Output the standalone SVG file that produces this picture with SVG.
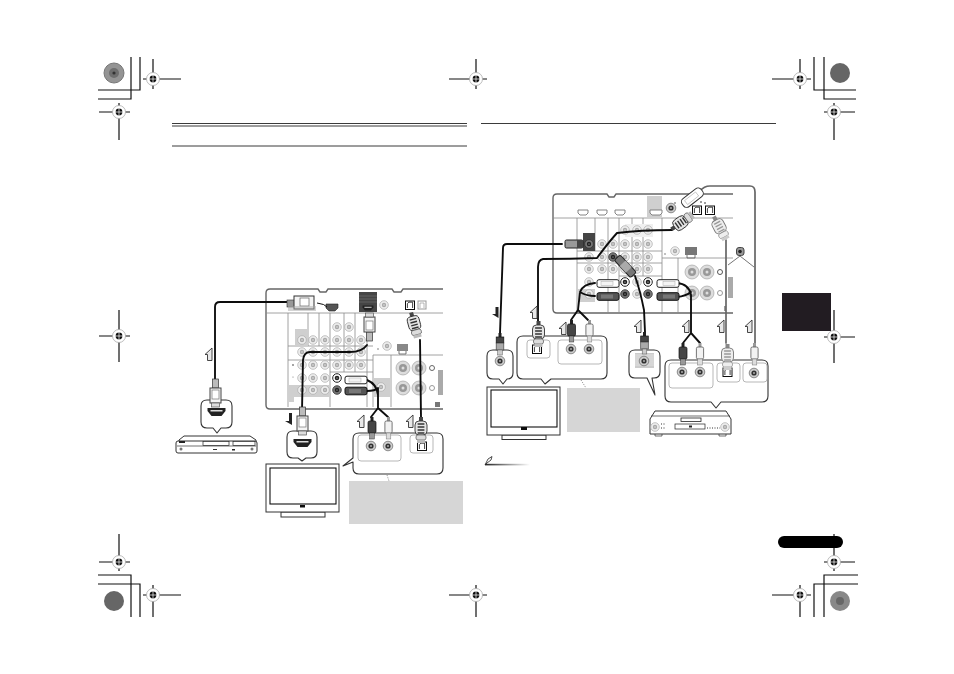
<svg xmlns="http://www.w3.org/2000/svg" width="954" height="674" viewBox="0 0 954 674">
<style>
.k{fill:none;stroke:#111;stroke-width:1.2}
.hl{stroke:#3a3a3a;stroke-width:1;fill:none}
.pan{fill:#fff;stroke:#666;stroke-width:1.4}
.div{stroke:#8a8a8a;stroke-width:.8;fill:none}
.cab{fill:none;stroke:#111;stroke-width:1.9;stroke-linecap:round;stroke-linejoin:round}
.cabg{fill:none;stroke:#666;stroke-width:1.7;stroke-linecap:round;stroke-linejoin:round}
.bub{fill:#fff;stroke:#333;stroke-width:1.1;stroke-linejoin:round}
.in{fill:none;stroke:#999;stroke-width:.7}
.gb{fill:#d6d6d6}
.bl{fill:#cfcfcf}
.dev{fill:#fff;stroke:#333;stroke-width:1;stroke-linejoin:round}
.dot{fill:none;stroke:#555;stroke-width:.6;stroke-dasharray:1.2 1.2}
.tv{fill:#fff;stroke:#333;stroke-width:1}
.scr{fill:#fff;stroke:#111;stroke-width:1.1}
.w{fill:#f2f2f2;stroke:#555;stroke-width:.8}
</style>
<defs>
<filter id="soft" x="0" y="0" width="1" height="1"><feGaussianBlur stdDeviation=".3"/></filter>
<linearGradient id="fade"><stop offset="0" stop-color="#222"/><stop offset="1" stop-color="#fff"/></linearGradient>
<g id="reg"><circle r="6.500" fill="#fff" stroke="#aaa" stroke-width=".8"/><circle r="3.400" fill="#111"/><path d="M-4,0H4M0,-4V4" stroke="#fff" stroke-width=".7"/></g>
<g id="j"><circle r="4.300" fill="#eee" stroke="#aaa" stroke-width=".7"/><circle r="2.200" fill="#aaa"/><circle r=".7" fill="#eee"/></g>
<g id="jb"><circle r="4.300" fill="#fff" stroke="#222" stroke-width="1"/><circle r="2.300" fill="#222"/><circle r=".6" fill="#fff"/></g>
<g id="jd"><circle r="4.300" fill="#777" stroke="#333" stroke-width=".8"/><circle r="2.200" fill="#222"/><circle r=".6" fill="#ccc"/></g>
<g id="jl"><circle r="7" fill="#ddd" stroke="#999" stroke-width=".6"/><circle r="4" fill="#999"/><circle r="1.500" fill="#ddd"/></g>
<g id="js"><circle r="4.800" fill="#ccc" stroke="#666" stroke-width=".7"/><circle r="2.600" fill="#333"/><circle r=".8" fill="#fff"/></g>
<path id="up" d="M7,0L0,6.500H2.500V12.500H7Z" fill="#e8e8e8" stroke="#333" stroke-width=".9" stroke-linejoin="round"/>
<g id="hp"><path d="M-9,-4H9V-1L5,4H-5L-9,-1Z" fill="#222"/><rect x="-6" y="-2" width="12" height="1.500" fill="#ddd"/></g>
<g id="rw"><rect x="-1.500" y="0" width="3" height="4" fill="#999"/><rect x="-3.600" y="4" width="7.200" height="12" rx="1.500" class="w"/><rect x="-2.300" y="16" width="4.600" height="6" fill="#ddd" stroke="#777" stroke-width=".5"/></g>
<g id="rd"><rect x="-1.500" y="0" width="3" height="4" fill="#222"/><rect x="-4" y="4" width="8" height="12" rx="1.500" fill="#444" stroke="#111" stroke-width=".7"/><rect x="-2.300" y="16" width="4.600" height="6" fill="#999" stroke="#333" stroke-width=".5"/></g>
<g id="rg"><rect x="-1.500" y="0" width="3" height="4" fill="#222"/><rect x="-3.800" y="4" width="7.600" height="6" fill="#444" stroke="#111" stroke-width=".7"/><rect x="-3.800" y="10" width="7.600" height="7" fill="#aaa" stroke="#444" stroke-width=".7"/><rect x="-2.300" y="17" width="4.600" height="5" fill="#ccc" stroke="#555" stroke-width=".5"/></g>
<g id="rwh"><rect x="0" y="-3.800" width="22" height="7.600" rx="2" fill="#fff" stroke="#222" stroke-width="1"/><rect x="4" y="-2" width="12" height="4" fill="#f4f4f4" stroke="#aaa" stroke-width=".5"/></g>
<g id="rdh"><rect x="0" y="-3.800" width="22" height="7.600" rx="2" fill="#555" stroke="#111" stroke-width="1"/><rect x="4" y="-2" width="12" height="4" fill="#777"/></g>
<g id="hv"><rect x="-3" y="-9" width="6" height="9" fill="#bbb" stroke="#333" stroke-width=".7"/><rect x="-5.500" y="0" width="11" height="15" fill="#f4f4f4" stroke="#444" stroke-width="1"/><rect x="-3.500" y="2" width="7" height="9" fill="#fff" stroke="#777" stroke-width=".7"/><rect x="-4" y="15" width="8" height="4" fill="#ddd" stroke="#555" stroke-width=".7"/></g>
<g id="opt"><rect x="-2" y="-13" width="4" height="5" fill="#444"/><rect x="-6" y="-9" width="12" height="14" rx="4" fill="#e4e4e4" stroke="#333" stroke-width=".9"/><path d="M-3.400,-6H3.400M-3.400,-3H3.400M-3.400,0H3.400M-3.400,3H3.400" stroke="#333" stroke-width="1.400"/><rect x="-5" y="5" width="10" height="5" rx="2" fill="#ddd" stroke="#555" stroke-width=".7"/><rect x="-4" y="10" width="8" height="3" fill="#bbb"/></g>
<g id="optg"><rect x="-2" y="-13" width="4" height="5" fill="#888"/><rect x="-6" y="-9" width="12" height="14" rx="4" fill="#eee" stroke="#777" stroke-width=".9"/><path d="M-3.400,-6H3.400M-3.400,-3H3.400M-3.400,0H3.400M-3.400,3H3.400" stroke="#999" stroke-width="1.400"/><rect x="-5" y="5" width="10" height="5" rx="2" fill="#eee" stroke="#888" stroke-width=".7"/><rect x="-4" y="10" width="8" height="3" fill="#ccc"/></g>
<g id="port"><rect x="-4.500" y="-4" width="9" height="8.500" fill="#fff" stroke="#111" stroke-width="1"/><path d="M-2.600,3V-1.500L-1,-2.800H2.600V3" fill="none" stroke="#111" stroke-width=".8"/></g>
</defs>

<g filter="url(#soft)">
<rect width="954" height="674" fill="#fff"/>
<g id="marks">
<circle cx="114" cy="73" r="10" fill="#949494" stroke="#777"/><circle cx="114" cy="73" r="5" fill="#6e6e6e"/><circle cx="114" cy="73" r="1.600" fill="#333"/>
<circle cx="840" cy="73" r="10" fill="#666"/><circle cx="114" cy="601" r="10" fill="#666"/><circle cx="840" cy="601" r="10" fill="#888"/><circle cx="840" cy="601" r="4" fill="#666"/>
<path class="k" d="M98,99H131V57M98,90H140V57M856,90H814V57M856,99H824V57M98,575H131V617M98,584H140V617M858,575H824V617M858,584H814V617"/>
<path class="k" d="M143,79H181M153,59V89M99,112H130M119,103V140M772,79H811M800,59V89M824,112H855M834,103V140M449,79H487M476,59V89M99,336H130M119,310V362M824,337H855M834,310V363M99,562H130M119,534V571M824,562H855M834,534V571M143,595H181M153,585V617M772,595H811M800,585V617M449,595H487M476,585V617"/>
<use href="#reg" x="153" y="79"/><use href="#reg" x="119" y="112"/><use href="#reg" x="800" y="79"/><use href="#reg" x="834" y="112"/><use href="#reg" x="476" y="79"/>
<use href="#reg" x="119" y="336"/><use href="#reg" x="834" y="337"/><use href="#reg" x="119" y="562"/><use href="#reg" x="834" y="562"/><use href="#reg" x="153" y="595"/><use href="#reg" x="800" y="595"/><use href="#reg" x="476" y="595"/>
<path class="hl" d="M172,123.500H467M172,126H467M172,146H467M481,123.500H776"/>
<rect x="782" y="293" width="49" height="38" fill="#231f20"/>
<rect x="778" y="536" width="65" height="12" rx="6" fill="#000"/>
<path d="M485,465L488,459L492,456.500L491,460L487,463Z" fill="#fff" stroke="#222" stroke-width=".8"/>
<rect x="485" y="463.800" width="45" height="1.600" fill="url(#fade)"/>
</g>

<g id="receiver-left">
<path class="pan" d="M443,289H403L401,292H394L392,289H328L326,292H320L318,289H270Q266,289 266,293V405Q266,409 270,409H443"/>
<path class="div" d="M266,313H443M288,313V407M308,313V346M319,313V346M330,313V407M344,313V372M355,313V372M367,313V407M373,355V407M288,346H373M288,360H373M330,372H373M373,355H443M391,355V407"/>
<rect x="295" y="329" width="13" height="17" class="bl"/><rect x="288" y="385" width="42" height="12" class="bl"/><rect x="288" y="397" width="6" height="5" class="bl"/>
<rect x="373" y="378" width="17" height="19" class="bl"/>
<rect x="359" y="292" width="18" height="20" fill="#444"/><path d="M359,296H377M359,299H377M359,302H377" stroke="#777" stroke-width=".6"/>
<use href="#hp" transform="translate(368,308) scale(.6)"/>
<path d="M326,304H338V308L335,311H329L326,308Z" fill="#555" stroke="#222" stroke-width=".6"/>
<path d="M317,303Q325,304 327,307" fill="none" stroke="#111" stroke-width="1"/>
<use href="#j" x="384" y="305"/>
<use href="#port" x="410" y="305"/><rect x="418" y="301" width="8" height="8" fill="#fff" stroke="#999"/><path d="M420,308V303H424V308" fill="none" stroke="#999" stroke-width=".7"/>
<use href="#j" x="337" y="327"/><use href="#j" x="349" y="327"/>
<use href="#j" x="302" y="340"/><use href="#j" x="313" y="340"/><use href="#j" x="325" y="340"/><use href="#j" x="337" y="340"/><use href="#j" x="349" y="340"/><use href="#j" x="361" y="340"/>
<use href="#j" x="302" y="352"/><use href="#j" x="313" y="352"/><use href="#j" x="325" y="352"/><use href="#j" x="337" y="352"/><use href="#j" x="349" y="352"/><use href="#j" x="361" y="352"/>
<use href="#j" x="302" y="365"/><use href="#j" x="313" y="365"/><use href="#j" x="325" y="365"/><use href="#j" x="337" y="365"/><use href="#j" x="349" y="365"/><use href="#j" x="361" y="365"/>
<use href="#j" x="302" y="378"/><use href="#j" x="313" y="378"/><use href="#j" x="325" y="378"/><use href="#jb" x="337" y="378"/>
<use href="#j" x="302" y="390"/><use href="#j" x="313" y="390"/><use href="#j" x="325" y="390"/><use href="#jd" x="337" y="390"/>
<use href="#j" x="381" y="387"/><use href="#j" x="387" y="346"/><circle cx="378" cy="349" r=".7" fill="#555"/>
<rect x="397" y="344" width="11" height="7" fill="#888"/><path d="M399,351V354H406V351" fill="none" stroke="#555" stroke-width=".8"/>
<use href="#jl" x="403" y="368"/><use href="#jl" x="419" y="368"/><use href="#jl" x="403" y="388"/><use href="#jl" x="419" y="388"/>
<circle cx="432" cy="368" r="2.500" fill="#fff" stroke="#666"/><circle cx="432" cy="388" r="2.500" fill="#fff" stroke="#999"/>
<rect x="438" y="370" width="5" height="25" fill="#aaa"/><rect x="435" y="402" width="5" height="5" fill="#777"/>
<circle cx="293" cy="365" r=".8" fill="#333"/><circle cx="293" cy="377" r=".6" fill="#777"/>
</g>

<g id="receiver-right">
<path class="pan" d="M733,194H616L614,197H609L607,194H557Q553,194 553,198V309Q553,313 557,313H733"/>
<path class="div" d="M553,218H733M577,218V313M595,218V251M608,218V313M619,218V313M632,218V276M643,218V276M662,218V313M678,258V313M577,251H662M577,263H662M619,276H662M662,258H733"/>
<rect x="647" y="196" width="15" height="22" class="bl"/>
<rect x="577" y="289" width="18" height="13" class="bl"/>
<rect x="625" y="224" width="28" height="13" fill="#f0f0f0"/>
<path d="M578,210H588V213L586,215H580L578,213ZM597,210H607V213L605,215H599L597,213ZM615,210H625V213L623,215H617L615,213ZM650,210H662V213L660,215H652L650,213Z" fill="#fff" stroke="#777" stroke-width=".9"/>
<use href="#js" x="671" y="208"/>
<use href="#port" x="697" y="210"/><use href="#port" x="710" y="210"/>
<circle cx="701" cy="202" r=".8" fill="#222"/><circle cx="705" cy="203" r=".8" fill="#222"/><circle cx="675" cy="203" r=".7" fill="#222"/>
<rect x="583" y="233" width="12" height="18" fill="#444"/>
<use href="#j" x="625" y="230"/><use href="#j" x="637" y="230"/><use href="#j" x="648" y="230"/>
<use href="#jd" x="589" y="244"/><use href="#j" x="602" y="244"/><use href="#j" x="613" y="244"/><use href="#j" x="625" y="244"/><use href="#j" x="637" y="244"/><use href="#j" x="648" y="244"/>
<use href="#j" x="589" y="257"/><use href="#j" x="602" y="257"/><use href="#jd" x="613" y="257"/><use href="#j" x="625" y="257"/><use href="#j" x="637" y="257"/><use href="#j" x="648" y="257"/>
<use href="#j" x="589" y="269"/><use href="#j" x="602" y="269"/><use href="#j" x="613" y="269"/><use href="#j" x="625" y="269"/><use href="#j" x="637" y="269"/><use href="#j" x="648" y="269"/>
<use href="#j" x="589" y="282"/><use href="#jb" x="625" y="282"/><use href="#j" x="637" y="282"/><use href="#jb" x="648" y="282"/>
<use href="#j" x="589" y="294"/><use href="#jd" x="625" y="294"/><use href="#j" x="637" y="294"/><use href="#jd" x="648" y="294"/>
<use href="#j" x="675" y="251"/><circle cx="665" cy="254" r=".7" fill="#555"/>
<rect x="685" y="247" width="12" height="8" fill="#777"/><path d="M687,255V258H695V255" fill="none" stroke="#555" stroke-width=".8"/>
<use href="#jl" x="692" y="272"/><use href="#jl" x="707" y="272"/><use href="#jl" x="692" y="293"/><use href="#jl" x="707" y="293"/>
<circle cx="720" cy="272" r="2.500" fill="#fff" stroke="#555"/><circle cx="720" cy="293" r="2.500" fill="#fff" stroke="#999"/>
<rect x="728" y="277" width="5" height="21" fill="#aaa"/><rect x="724" y="306" width="2" height="5" fill="#999"/>
</g>

<g id="bubble-bd">
<path class="bub" d="M207,400Q201,400 201,406V422Q201,428 207,428H213L217,433L221,428H226Q232,428 232,422V406Q232,400 226,400Z"/>
<use href="#hp" x="216.500" y="412"/>
</g>
<g id="bd-player">
<path class="dev" d="M179,447V440L184,436H250L256,440V447Z"/><rect x="176" y="441" width="81" height="12" rx="2" class="dev"/>
<rect x="179" y="441" width="6" height="2" fill="#222"/><rect x="203" y="441.500" width="26" height="4" fill="#fff" stroke="#222" stroke-width=".7"/><rect x="233" y="441.500" width="22" height="4" fill="#fff" stroke="#222" stroke-width=".7"/>
<path d="M177,446H256" stroke="#333" stroke-width=".7"/>
<circle cx="181" cy="449" r="1.500" fill="#777"/><circle cx="252" cy="449" r="1.500" fill="#777"/><rect x="213" y="449" width="4" height="1" fill="#333"/><rect x="232" y="449" width="3" height="1.500" fill="#222"/>
</g>
<g id="bubble-tv-hdmi">
<path class="bub" d="M293,431Q287,431 287,437V452Q287,458 293,458H298L302,461L306,458H311Q317,458 317,452V437Q317,431 311,431Z"/>
<use href="#hp" x="302.500" y="443"/>
</g>
<g id="tv-left">
<rect x="281" y="512" width="44" height="5" class="tv"/><rect x="266" y="464" width="73" height="48" class="tv"/><rect x="270" y="468" width="66" height="36" class="scr"/><rect x="300" y="505" width="5" height="2.500" fill="#111"/>
</g>
<g id="bubble-audio-left">
<path class="bub" d="M359,433Q353,433 353,439V458L343,466L353,462V468Q353,474 359,474H437Q443,474 443,468V439Q443,433 437,433Z"/>
<rect x="358" y="435" width="43" height="26" rx="3" class="in"/><rect x="410" y="435" width="23" height="18" rx="3" class="in"/>
<use href="#js" x="371" y="446"/><use href="#js" x="388" y="446"/><use href="#port" x="422" y="446"/>
</g>
<g id="note-left"><rect x="349" y="481" width="114" height="43" class="gb"/><path class="dot" d="M387,475L389,481"/></g>

<g id="bubble-tv-right">
<path class="bub" d="M493,350Q487,350 487,356V373Q487,379 493,379H499L503,384L507,379H507Q513,379 513,373V356Q513,350 507,350Z"/>
<use href="#js" x="500" y="361"/>
</g>
<g id="bubble-audio-right">
<path class="bub" d="M523,336Q517,336 517,342V373Q517,379 523,379H541L545,384L551,379H601Q607,379 607,373V342Q607,336 601,336Z"/>
<rect x="527" y="340" width="23" height="18" rx="3" class="in"/><rect x="558" y="340" width="44" height="24" rx="3" class="in"/>
<use href="#js" x="571" y="349"/><use href="#js" x="589" y="349"/><use href="#port" x="537" y="349"/>
</g>
<g id="tv-right">
<rect x="502" y="435" width="44" height="4.500" class="tv"/><rect x="487" y="387" width="73" height="48" class="tv"/><rect x="491" y="390" width="66" height="37" class="scr"/><rect x="521" y="427" width="6" height="3" fill="#111"/>
</g>
<g id="note-right"><rect x="567" y="388" width="73" height="44" class="gb"/><path class="dot" d="M581,380L586,388"/></g>
<g id="bubble-coax">
<path class="bub" d="M635,350Q629,350 629,356V372Q629,378 635,378H647L655,395L652,378H654Q660,378 660,372V356Q660,350 654,350Z"/>
<rect x="635" y="353" width="19" height="15" fill="#ccc"/>
<path d="M635,355H654M635,357H654M635,359H654M635,361H654M635,363H654M635,365H654" stroke="#f0f0f0" stroke-width=".6"/>
<use href="#js" x="644" y="361"/>
</g>
<g id="bubble-player">
<path class="bub" d="M671,360Q665,360 665,366V396Q665,402 671,402H711L716,408L721,402H762Q768,402 768,396V366Q768,360 762,360Z"/>
<rect x="669" y="363" width="44" height="25" rx="3" class="in"/><rect x="717" y="363" width="23" height="19" rx="3" class="in"/><rect x="743" y="363" width="24" height="19" rx="3" class="in"/>
<use href="#js" x="682" y="372"/><use href="#js" x="700" y="372"/><use href="#port" x="727.500" y="372"/><use href="#js" x="754" y="373"/>
</g>
<g id="player">
<path class="dev" d="M650,434V419L655,411H726L731,419V434Z"/>
<path d="M651,416H730" stroke="#333" stroke-width=".7"/>
<rect x="681" y="418" width="20" height="3.500" fill="#fff" stroke="#222" stroke-width=".8"/><rect x="675" y="424" width="30" height="5" fill="#fff" stroke="#222" stroke-width=".7"/><rect x="689" y="425.500" width="3" height="2" fill="#222"/>
<use href="#j" x="655" y="427"/><use href="#j" x="725" y="427"/>
<path d="M661,424H665M661,428H665M707,428H720" stroke="#333" stroke-width="1" stroke-dasharray="1 1.500"/>
<path d="M655,434V436H662V434M719,434V436H726V434" fill="none" stroke="#333" stroke-width=".7"/>
</g>

<g id="connectors">
<path class="cab" d="M287,302H220Q215,302 215,307V380"/>
<path class="cab" d="M367,345Q362,352 350,352H310Q304,352 303,360L302,410"/>
<path class="cab" d="M367,380Q377,384 378,395M367,391Q375,391 378,388M378,388L378,408M378,408L371,417M378,408L388,417"/>
<path class="cab" d="M420,340L421,417"/>
<path class="cab" d="M562,244H507Q503,244 503,248L500,333"/>
<path class="cab" d="M672,230Q640,230 617,233Q608,243 597,258Q570,259 543,259Q538,260 538,267V322"/>
<path class="cabg" d="M700,191Q704,186 710,186H750Q755,186 755,192V343"/>
<path class="cabg" d="M726,240V343"/>
<path class="cab" d="M635,276Q640,290 644,310L645,332"/>
<path class="cab" d="M595,283Q583,284 580,292L578,310M595,296Q586,296 580,292M578,310L571,320M578,310L588,320"/>
<path class="cab" d="M677,283Q689,284 691,295V333M677,297Q686,296 691,292M691,333L683,343M691,333L700,343"/>
<path d="M740,256L728,265M740,256L754,267" fill="none" stroke="#3a3a3a" stroke-width=".7"/>

<g id="plug-hdmi-topl"><rect x="287" y="300" width="9" height="7" fill="#999" stroke="#333" stroke-width=".6"/><rect x="294" y="296" width="20" height="13" fill="#f4f4f4" stroke="#333"/><rect x="300" y="298" width="9" height="8" fill="#fff" stroke="#666" stroke-width=".7"/><rect x="288" y="306" width="28" height="5" fill="#aaa" opacity=".5"/></g>
<use href="#hv" x="369.500" y="332" transform="rotate(180 369.500 332)"/>
<use href="#hv" x="215.500" y="388"/>
<use href="#hv" x="302.500" y="416"/>
<use href="#opt" x="414.500" y="325" transform="rotate(-15 414.500 325)"/>
<use href="#opt" x="421" y="430"/>
<use href="#rwh" x="345" y="380"/><use href="#rdh" x="345" y="391"/>
<use href="#rd" x="372" y="417"/><use href="#rw" x="388.500" y="417"/>

<g transform="translate(572,244) rotate(90)"><rect x="-4" y="-11" width="8" height="18" rx="1.500" fill="#999" stroke="#222"/><rect x="-4" y="-11" width="8" height="6" fill="#444"/></g>
<use href="#rg" x="500" y="333"/>
<use href="#opt" x="682" y="222" transform="rotate(-125 682 222)"/>
<use href="#opt" x="538.500" y="334"/>
<g transform="translate(690,199.500) rotate(52)"><rect x="-5" y="-15" width="10" height="24" rx="4" fill="#fff" stroke="#333" stroke-width="1"/><rect x="-2.500" y="-9" width="5" height="14" fill="#fff" stroke="#aaa" stroke-width=".6"/></g>
<use href="#optg" x="720" y="228" transform="rotate(-28 720 228)"/>
<use href="#optg" x="727.500" y="357"/>
<use href="#rw" x="754.500" y="343"/>
<g transform="translate(626,267) rotate(-43)"><rect x="-4" y="-13" width="8" height="24" rx="2" fill="#777" stroke="#222"/><rect x="-4" y="-5" width="8" height="9" fill="#aaa"/></g>
<use href="#rg" x="644.500" y="332"/>
<use href="#rwh" x="597" y="283.500"/><use href="#rdh" x="597" y="296.500"/>
<use href="#rwh" x="677" y="283.500" transform="rotate(180 677 283.500) translate(-2,0)"/><use href="#rdh" x="677" y="296.500" transform="rotate(180 677 296.500) translate(-2,0)"/>
<use href="#rd" x="571.500" y="320"/><use href="#rw" x="589.500" y="320"/>
<use href="#rd" x="683" y="343"/><use href="#rw" x="700" y="343"/>
<rect x="736.500" y="247.500" width="7.500" height="8" rx="2.500" fill="#999" stroke="#444"/><circle cx="740" cy="251.500" r="1.800" fill="#222"/>
</g>

<g id="arrows">
<use href="#up" x="205" y="348"/><use href="#up" x="357" y="415"/><use href="#up" x="406" y="415"/>
<use href="#up" x="530" y="306"/><use href="#up" x="559" y="322"/><use href="#up" x="634" y="320"/><use href="#up" x="682" y="320"/><use href="#up" x="717" y="320"/><use href="#up" x="745" y="320"/>
<path d="M285,421H289V413H292V425Z" fill="#222"/><path d="M492,314H495.500V307H498.500V318Z" fill="#222"/>
</g>
</g>
</svg>
